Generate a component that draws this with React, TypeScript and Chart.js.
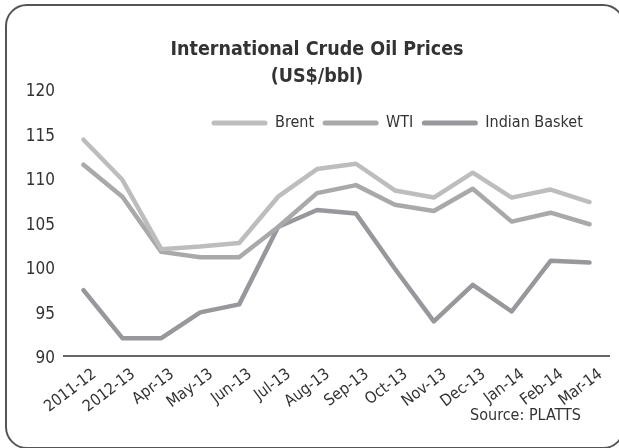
import React, { useEffect, useRef } from "react";
import { Chart, registerables } from "chart.js";

Chart.register(...registerables);

const categories = ["2011-12", "2012-13", "Apr-13", "May-13", "Jun-13", "Jul-13", "Aug-13", "Sep-13", "Oct-13", "Nov-13", "Dec-13", "Jan-14", "Feb-14", "Mar-14"];
const brent = [114.3, 109.8, 102.0, 102.3, 102.7, 107.9, 111.0, 111.6, 108.6, 107.8, 110.6, 107.8, 108.7, 107.3];
const wti = [111.5, 107.9, 101.7, 101.1, 101.1, 104.5, 108.3, 109.2, 107.0, 106.3, 108.8, 105.1, 106.1, 104.8];
const indianBasket = [97.4, 92.0, 92.0, 94.9, 95.8, 104.5, 106.4, 106.0, 99.8, 93.9, 98.0, 95.0, 100.7, 100.5];
const seriesNames = ["Brent", "WTI", "Indian Basket"];
const titleLines = ["International Crude Oil Prices", "(US$/bbl)"];
const sourceText = "Source: PLATTS";
const yMin = 90;
const yMax = 120;
const yStep = 5;

const FONT = '"Liberation Sans Narrow", "DejaVu Sans Condensed", "Roboto Condensed", "Arial Narrow", sans-serif';
const colors = ["#bdbdbd", "#a9a9ab", "#98989c"];

const decorPlugin = {
  id: "decor",
  afterDraw(chart: any) {
    const ctx = chart.ctx;
    ctx.save();
    // title
    ctx.fillStyle = "#333";
    ctx.textAlign = "center";
    ctx.textBaseline = "middle";
    ctx.font = `bold 19.5px ${FONT}`;
    ctx.fillText(titleLines[0], 317, 50);
    ctx.fillText(titleLines[1], 317, 77);
    // legend
    ctx.font = `16px ${FONT}`;
    ctx.textAlign = "left";
    let x = 212;
    const y = 123;
    chart.data.datasets.forEach((ds: any) => {
      ctx.strokeStyle = ds.borderColor;
      ctx.lineWidth = 5;
      ctx.lineCap = "round";
      ctx.beginPath();
      ctx.moveTo(x + 2, y);
      ctx.lineTo(x + 53, y);
      ctx.stroke();
      x += 63;
      ctx.fillStyle = "#333";
      ctx.fillText(ds.label, x, y);
      x += ctx.measureText(ds.label).width + 9;
    });
    // source
    ctx.textAlign = "right";
    ctx.fillStyle = "#333";
    ctx.font = `16px ${FONT}`;
    ctx.fillText(sourceText, 581, 416);
    ctx.restore();
  },
};

export default function App() {
  const ref = useRef<HTMLCanvasElement>(null);
  useEffect(() => {
    if (!ref.current) return;
    const chart = new Chart(ref.current, {
      type: "line",
      data: {
        labels: categories,
        datasets: [brent, wti, indianBasket].map((d, i) => ({
          label: seriesNames[i],
          data: d,
          borderColor: colors[i],
          backgroundColor: colors[i],
          borderWidth: 4.5,
          pointRadius: 0,
          tension: 0,
          borderCapStyle: "round",
          borderJoinStyle: "round",
        })),
      },
      options: {
        animation: false,
        responsive: false,
        devicePixelRatio: 1,
        layout: { padding: { top: 89, left: 20, right: 10, bottom: 0 } },
        plugins: {
          legend: { display: false },
          title: { display: false },
          tooltip: { enabled: false },
        },
        scales: {
          x: {
            offset: true,
            grid: { display: false, drawTicks: false },
            border: { display: true, color: "#666", width: 2 },
            ticks: {
              autoSkip: false,
              minRotation: 37,
              maxRotation: 37,
              color: "#333",
              padding: 9,
              labelOffset: 11,
              font: { family: FONT, size: 16 },
            },
            afterFit(scale: any) {
              scale.height = 92;
            },
          },
          y: {
            min: yMin,
            max: yMax,
            grid: { display: false, drawTicks: false },
            border: { display: false },
            ticks: {
              stepSize: yStep,
              color: "#333",
              padding: 9,
              labelOffset: 3,
              font: { family: FONT, size: 17 },
            },
            afterFit(scale: any) {
              scale.width = 44;
            },
          },
        },
      },
      plugins: [decorPlugin],
    });
    return () => chart.destroy();
  }, []);

  return (
    <div style={{ position: "fixed", left: 0, top: 0, width: 619, height: 448, background: "#fff", overflow: "hidden" }}>
      <div
        style={{
          position: "absolute",
          left: 5,
          top: 4,
          width: 620,
          height: 445,
          boxSizing: "border-box",
          border: "2px solid #555",
          borderRadius: 22,
        }}
      />
      <canvas ref={ref} width={619} height={448} style={{ position: "absolute", left: 0, top: 0, width: 619, height: 448 }} />
    </div>
  );
}
